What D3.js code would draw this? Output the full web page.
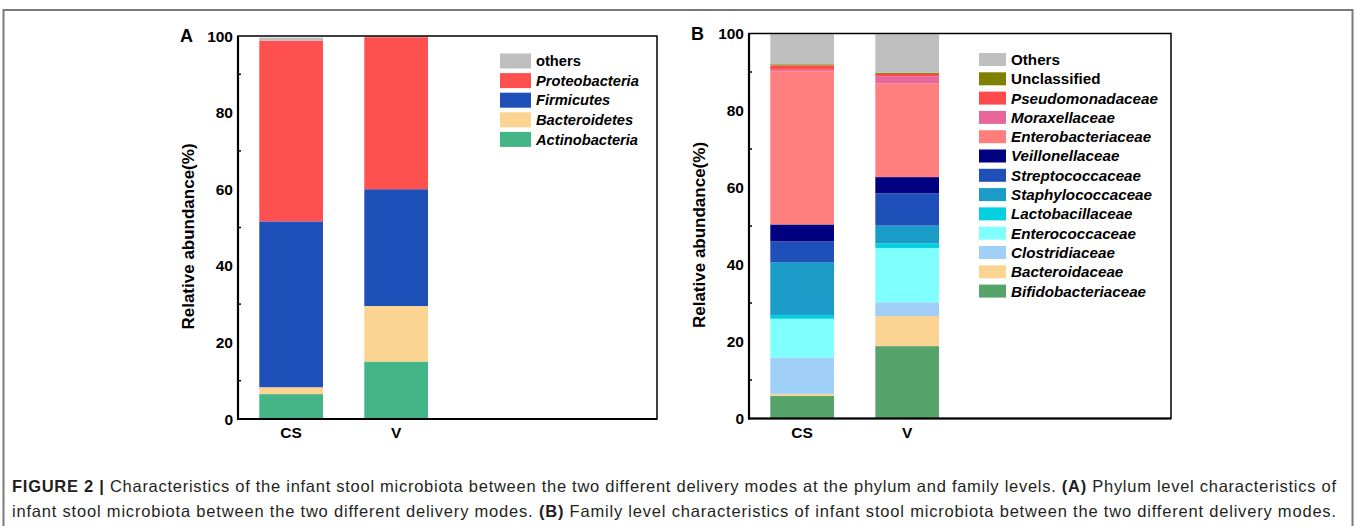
<!DOCTYPE html>
<html>
<head>
<meta charset="UTF-8" />
<title>Figure 2</title>
<style>
  body { margin: 0; background: #fff; }
  svg { display: block; font-family: Arial, "Liberation Sans", Helvetica, sans-serif; }
  .tick-label { font-size: 15.5px; font-weight: bold; }
  .ylabel { font-size: 17px; font-weight: bold; }
  .panel-letter { font-size: 18px; font-weight: bold; }
  .legend text { font-weight: bold; }
  .caption { font-size: 16.5px; fill: #231f20; }
</style>
<script src="https://cdn.jsdelivr.net/npm/d3@7"></script>
</head>
<body>
<div id="chart"></div>
<script>
// ---- data ----
const groups = ["CS", "V"];

// phylum level (bottom -> top)
const phyla = ["Actinobacteria", "Bacteroidetes", "Firmicutes", "Proteobacteria", "others"];
const phylaColors = ["#45b486", "#fbd491", "#1f4fb8", "#ff5050", "#bfbfbf"];
const phylaCS = [6.5, 1.8, 43.3, 47.2, 0.8];
const phylaV = [15.0, 14.5, 30.5, 39.7, 0.3];

// family level (bottom -> top)
const families = ["Bifidobacteriaceae", "Bacteroidaceae", "Clostridiaceae", "Enterococcaceae",
  "Lactobacillaceae", "Staphylococcaceae", "Streptococcaceae", "Veillonellaceae",
  "Enterobacteriaceae", "Moraxellaceae", "Pseudomonadaceae", "Unclassified", "Others"];
const familyColors = ["#56a46c", "#fbd491", "#a0d0f8", "#80ffff", "#00d0e0", "#1a9bc8",
  "#1f4fb8", "#000080", "#ff7f7f", "#e8679b", "#ff4b4b", "#7f7f00", "#bfbfbf"];
const familyCS = [5.9, 0.5, 9.4, 10.1, 1.0, 13.7, 5.4, 4.4, 39.8, 0.4, 1.1, 0.3, 7.8];
const familyV = [18.8, 7.8, 3.6, 14.1, 1.2, 4.6, 8.4, 4.2, 24.3, 1.9, 0.6, 0.3, 10.0];

const yTicks = [0, 20, 40, 60, 80, 100];
const yMinor = [10, 30, 50, 70, 90];

const captionLines = [
  [["FIGURE 2 | ", true], ["Characteristics of the infant stool microbiota between the two different delivery modes at the phylum and family levels. ", false], ["(A)", true], [" Phylum level characteristics of", false]],
  [["infant stool microbiota between the two different delivery modes. ", false], ["(B)", true], [" Family level characteristics of infant stool microbiota between the two different delivery modes.", false]]
];

const W = 1355, H = 526;
const svg = d3.select("#chart").append("svg").attr("width", W).attr("height", H);

// figure frame
svg.append("rect").attr("x", 3.5).attr("y", 10).attr("width", 1349).attr("height", 540)
  .attr("fill", "none").attr("stroke", "#7a7a7a").attr("stroke-width", 2);

function panel(opts) {
  const { left, right, top, bottom, letter, keys, colors, valsCS, valsV, legend } = opts;
  const g = svg.append("g");

  // bars sit in the left part of the plot box
  const x = d3.scaleBand().domain(groups).range([left + 21.3, left + 190]).paddingInner(0.3935).paddingOuter(0);
  const y = d3.scaleLinear().domain([0, 100]).range([bottom, top]);

  const rows = groups.map((gname, gi) => {
    const r = { group: gname };
    keys.forEach((k, i) => r[k] = (gi === 0 ? valsCS : valsV)[i]);
    return r;
  });
  const stacked = d3.stack().keys(keys)(rows);

  g.selectAll("g.layer").data(stacked).join("g").attr("class", "layer")
    .attr("fill", (d, i) => colors[i])
    .selectAll("rect").data(d => d).join("rect")
    .attr("x", d => x(d.data.group))
    .attr("width", x.bandwidth())
    .attr("y", d => y(d[1]))
    .attr("height", d => Math.max(0, y(d[0]) - y(d[1])));

  // box
  g.append("rect").attr("x", left).attr("y", top).attr("width", right - left).attr("height", bottom - top)
    .attr("fill", "none").attr("stroke", "#000").attr("stroke-width", 1.5);
  g.append("line").attr("x1", left).attr("x2", left).attr("y1", top).attr("y2", bottom + 1)
    .attr("stroke", "#000").attr("stroke-width", 2.2);
  g.append("line").attr("x1", left - 1).attr("x2", right).attr("y1", bottom).attr("y2", bottom)
    .attr("stroke", "#000").attr("stroke-width", 2.2);

  // minor ticks inward
  g.selectAll("line.minor").data(yMinor).join("line").attr("class", "minor")
    .attr("x1", left).attr("x2", left + 3).attr("y1", d => y(d)).attr("y2", d => y(d))
    .attr("stroke", "#000").attr("stroke-width", 1.5);

  // y tick labels
  g.selectAll("text.yt").data(yTicks).join("text").attr("class", "tick-label yt")
    .attr("x", left - 5).attr("y", d => y(d)).attr("dy", "0.36em")
    .attr("text-anchor", "end").text(d => d);

  // x labels
  g.selectAll("text.xt").data(groups).join("text").attr("class", "tick-label xt")
    .attr("x", d => x(d) + x.bandwidth() / 2).attr("y", bottom + 19)
    .attr("text-anchor", "middle").text(d => d);

  g.append("text").attr("class", "ylabel")
    .attr("transform", `translate(${left - 44},${(top + bottom) / 2 + 9}) rotate(-90)`)
    .attr("text-anchor", "middle").text("Relative abundance(%)");

  g.append("text").attr("class", "panel-letter").attr("x", left - 58).attr("y", top + 6).text(letter);

  // legend (top -> bottom reverses the stack)
  const lg = g.append("g").attr("class", "legend").style("font-size", legend.fs + "px");
  const items = keys.map((k, i) => ({ k, c: colors[i] })).reverse();
  const it = lg.selectAll("g").data(items).join("g")
    .attr("transform", (d, i) => `translate(${legend.x},${legend.y + i * legend.step})`);
  it.append("rect").attr("x", 0).attr("y", -legend.h / 2).attr("width", legend.w).attr("height", legend.h)
    .attr("fill", d => d.c);
  it.append("text").attr("x", legend.w + 5).attr("y", 0).attr("dy", "0.36em")
    .style("font-style", d => (d.k === "others" || d.k === "Others" || d.k === "Unclassified") ? "normal" : "italic")
    .text(d => d.k);
}

panel({
  left: 238, right: 657, top: 36, bottom: 419, letter: "A",
  keys: phyla, colors: phylaColors, valsCS: phylaCS, valsV: phylaV,
  legend: { x: 500, y: 61, step: 19.6, w: 31, h: 15, fs: 14.7 }
});

panel({
  left: 749, right: 1171, top: 33.5, bottom: 418.5, letter: "B",
  keys: families, colors: familyColors, valsCS: familyCS, valsV: familyV,
  legend: { x: 979, y: 59.5, step: 19.3, w: 27, h: 13, fs: 15.2 }
});

// caption, justified
const cap = svg.append("g");
captionLines.forEach((line, li) => {
  const t = cap.append("text").attr("class", "caption")
    .attr("x", 12).attr("y", 492 + li * 25)
    .attr("textLength", 1324).attr("lengthAdjust", "spacing");
  line.forEach(([s, b]) => {
    t.append("tspan").style("font-weight", b ? "bold" : "normal").text(s);
  });
});
</script>
</body>
</html>
